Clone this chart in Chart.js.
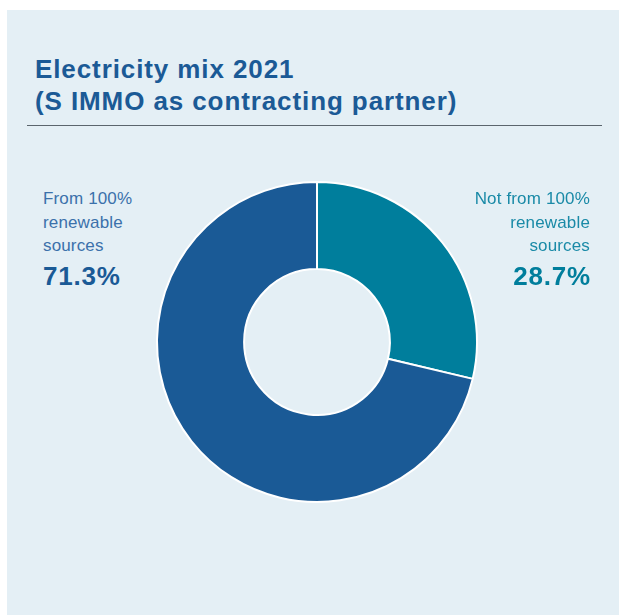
<!DOCTYPE html>
<html>
<head>
<meta charset="utf-8">
<script src="https://cdn.jsdelivr.net/npm/chart.js@4/dist/chart.umd.min.js"></script>
<style>
  html, body { margin: 0; padding: 0; background: #ffffff; width: 619px; height: 615px; overflow: hidden; }
  #panel { position: absolute; left: 7px; top: 10px; width: 612px; height: 605px; background: #e4eff5; }
  .title { position: absolute; left: 35px; top: 53px; font-family: "Liberation Sans", Arial, sans-serif; font-weight: bold; font-size: 26px; line-height: 32px; color: #1b5a96; letter-spacing: 0.9px; white-space: nowrap; }
  #rule { position: absolute; left: 27px; top: 125px; width: 575px; height: 0; border-top: 1.5px solid #5b656d; }
  #wrap { position: absolute; left: 147px; top: 172px; width: 340px; height: 340px; }
  .lab { position: absolute; font-family: "Liberation Sans", Arial, sans-serif; white-space: nowrap; }
  .lab .txt { font-size: 17px; line-height: 23.5px; letter-spacing: 0.15px; }
  .lab .val { font-size: 26px; font-weight: bold; letter-spacing: 0.8px; margin-top: 4px; line-height: 28px; }
  #labL { left: 43px; top: 187px; text-align: left; }
  #labL .txt { color: #3b71ab; }
  #labL .val { color: #1a5a96; }
  #labR { right: 29px; top: 187px; text-align: right; }
  #labR .txt { color: #1a8aa7; }
  #labR .val { color: #007e9c; margin-right: -1px; }
</style>
</head>
<body>
<div id="panel"></div>
<div class="title">Electricity mix 2021<br>(S IMMO as contracting partner)</div>
<div id="rule"></div>
<div id="wrap"><canvas id="c" width="340" height="340"></canvas></div>
<div class="lab" id="labL"></div>
<div class="lab" id="labR"></div>
<script>
// Data
const categories = ["Not from 100% renewable sources", "From 100% renewable sources"];
const labelLines = [["Not from 100%", "renewable", "sources"], ["From 100%", "renewable", "sources"]];
const values = [28.7, 71.3];
const colors = ["#007e9c", "#1a5a96"];

function fillLabel(id, i) {
  const el = document.getElementById(id);
  const t = document.createElement("div");
  t.className = "txt";
  t.innerHTML = labelLines[i].join("<br>");
  const v = document.createElement("div");
  v.className = "val";
  v.textContent = values[i].toFixed(1) + "%";
  el.appendChild(t);
  el.appendChild(v);
}
fillLabel("labR", 0);
fillLabel("labL", 1);

new Chart(document.getElementById("c"), {
  type: "doughnut",
  data: {
    labels: categories,
    datasets: [{
      data: values,
      backgroundColor: colors,
      borderColor: "#ffffff",
      borderWidth: 2,
      hoverOffset: 0
    }]
  },
  options: {
    responsive: false,
    animation: false,
    radius: 160,
    cutout: 77,
    rotation: 0,
    layout: { padding: 0 },
    plugins: { legend: { display: false }, tooltip: { enabled: false } }
  }
});
</script>
</body>
</html>
